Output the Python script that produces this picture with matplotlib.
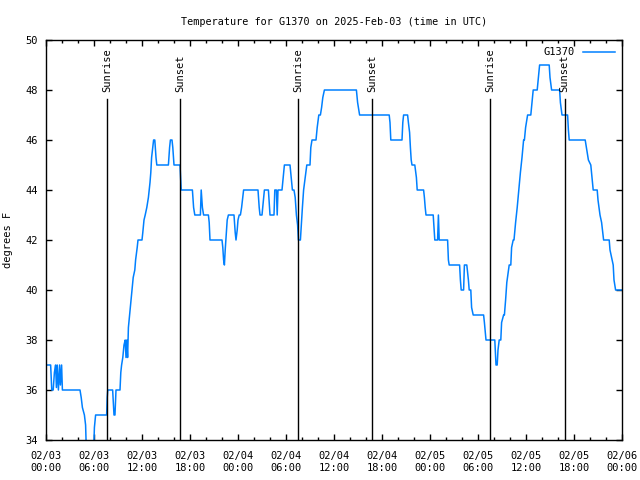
import matplotlib
matplotlib.use("Agg")
import matplotlib.pyplot as plt
from matplotlib.ticker import MultipleLocator

# hours since 2025-02-03 00:00 UTC, temperature in F
hours = [0, 0.58, 0.72, 0.9, 1.05, 1.2, 1.3, 1.4, 1.55, 1.7, 1.8, 1.95, 2.05,
         4.25, 4.4, 4.55, 4.8, 4.95, 5.05, 5.95, 6.05, 6.2, 7.58, 7.65, 7.72,
         8.33, 8.5, 8.62, 8.75, 9.25, 9.35, 9.45, 9.6, 9.75, 9.9, 10.0, 10.1,
         10.2, 10.3, 10.6, 10.9, 11.1, 11.2, 11.4, 11.5, 12.0, 12.1, 12.25,
         12.4, 12.6, 12.8, 13.0, 13.1, 13.2, 13.35, 13.45, 13.6, 13.75, 13.85,
         15.3, 15.45, 15.55, 15.75, 15.85, 16.0, 16.75, 16.9, 18.3, 18.45,
         18.6, 19.3, 19.4, 19.55, 19.7, 20.3, 20.4, 20.5, 22.0, 22.1, 22.2,
         22.3, 22.4, 22.55, 22.65, 22.8, 23.5, 23.65, 23.75, 23.9, 24.0, 24.15,
         24.3, 24.45, 24.7, 26.5, 26.65, 26.75, 27.0, 27.3, 27.8, 28.0, 28.5,
         28.6, 28.8, 28.9, 29.0, 29.5, 29.65, 29.8, 30.5, 30.65, 30.8, 31.0,
         31.15, 31.3, 31.45, 31.55, 31.8, 31.95, 32.05, 32.2, 32.4, 32.6, 33.0,
         33.1, 33.25, 33.75, 33.9, 34.1, 34.3, 34.45, 34.6, 34.8, 38.8, 38.95,
         39.2, 42.9, 43.0, 43.1, 44.5, 44.6, 44.7, 45.2, 45.3, 45.45, 45.55,
         45.65, 45.75, 46.1, 46.3, 46.4, 47.2, 47.3, 47.4, 47.5, 48.4, 48.5,
         48.6, 48.95, 49.05, 49.15, 50.2, 50.3, 50.4, 51.7, 51.8, 51.9, 52.2,
         52.3, 52.6, 52.8, 52.9, 53.1, 53.2, 53.4, 54.7, 54.8, 55.0, 56.1,
         56.25, 56.4, 56.5, 56.65, 56.85, 56.95, 57.2, 57.3, 57.45, 57.6, 57.9,
         58.1, 58.2, 58.4, 58.5, 58.7, 58.9, 59.1, 59.3, 59.5, 59.7, 59.8,
         59.95, 60.2, 60.6, 60.75, 60.9, 61.4, 61.55, 61.7, 62.9, 63.0, 63.2,
         64.2, 64.3, 64.5, 65.2, 65.3, 65.4, 67.4, 67.6, 67.8, 68.1, 68.25,
         68.4, 68.9, 69.0, 69.25, 69.45, 69.7, 70.4, 70.5, 70.7, 70.9, 71.0,
         71.2, 72.0]
temps = [37, 37, 36, 36, 36.7, 37, 36.1, 37, 36, 37, 36.2, 37, 36,
         36, 35.7, 35.3, 35, 34.6, 33.5, 33.5, 34.5, 35, 35, 35.7, 36,
         36, 35, 35, 36, 36, 36.7, 37, 37.3, 37.8, 38, 37.3, 38,
         37.3, 38.5, 39.5, 40.5, 40.8, 41.2, 41.7, 42, 42, 42.3, 42.8,
         43, 43.3, 43.7, 44.3, 44.7, 45.3, 45.7, 46, 46, 45.3, 45,
         45, 45.7, 46, 46, 45.7, 45, 45, 44, 44, 43.3,
         43, 43, 44, 43.3, 43, 43, 42.7, 42, 42, 41.7, 41.2,
         41, 41.6, 42.3, 42.8, 43, 43, 42.3, 42, 42.4, 42.8, 43,
         43, 43.3, 44, 44, 43.3, 43, 43, 44, 44, 43, 43,
         44, 44, 43, 44, 44, 44.5, 45, 45, 44.5, 44, 44,
         43.7, 43, 42.6, 42, 42, 42.8, 43.3, 44, 44.5, 45, 45,
         45.7, 46, 46, 46.5, 47, 47, 47.3, 47.7, 48, 48, 47.5,
         47, 47, 46.7, 46, 46, 46.7, 47, 47, 46.7, 46.3, 45.7,
         45.2, 45, 45, 44.5, 44, 44, 43.7, 43.3, 43, 43, 42.5,
         42, 42, 43, 42, 42, 41.2, 41, 41, 40.4, 40, 40,
         41, 41, 40.4, 40, 40, 39.3, 39, 39, 38.7, 38, 38,
         37, 37, 37.6, 38, 38, 38.7, 39, 39, 39.6, 40.3, 41,
         41, 41.7, 42, 42, 42.7, 43.3, 44, 44.7, 45.3, 46, 46,
         46.5, 47, 47, 47.5, 48, 48, 48.5, 49, 49, 48.5, 48,
         48, 47.5, 47, 47, 46.4, 46, 46, 45.6, 45.2, 45, 44.5,
         44, 44, 43.6, 43, 42.7, 42, 42, 41.6, 41.3, 41, 40.4,
         40, 40]

sun_hours = [7.67, 16.8, 31.54, 40.8, 55.54, 64.83]
sun_labels = ["Sunrise", "Sunset", "Sunrise", "Sunset", "Sunrise", "Sunset"]

tick_hours = list(range(0, 73, 6))
tick_labels = ["02/03\n00:00", "02/03\n06:00", "02/03\n12:00", "02/03\n18:00",
               "02/04\n00:00", "02/04\n06:00", "02/04\n12:00", "02/04\n18:00",
               "02/05\n00:00", "02/05\n06:00", "02/05\n12:00", "02/05\n18:00",
               "02/06\n00:00"]

plt.rcParams['font.family'] = ['DejaVu Sans Mono']
plt.rcParams['font.size'] = 7.5

fig = plt.figure(figsize=(6.4, 4.8), dpi=100)
ax = fig.add_axes([46 / 640, 40 / 480, 576 / 640, 400 / 480])

ax.plot(hours, temps, color='#0080ff', lw=1.1, label='G1370')

for h, lab in zip(sun_hours, sun_labels):
    ax.axvline(h, ymin=0, ymax=0.8525, color='black', lw=1.0)
    ax.text(h, 47.92, lab, rotation=90, ha='center', va='bottom', fontsize=7.5)

ax.set_xlim(0, 72)
ax.set_ylim(34, 50)
ax.set_xticks(tick_hours)
ax.set_xticklabels(tick_labels, linespacing=1.25)
ax.xaxis.set_minor_locator(MultipleLocator(2))
ax.set_yticks(range(34, 51, 2))
ax.tick_params(which='both', direction='in', top=True, right=True, width=1.0)
ax.tick_params(which='major', length=4)
ax.tick_params(axis='x', which='major', pad=8)
ax.tick_params(axis='y', which='major', pad=6)
ax.tick_params(which='minor', length=2)
for s in ax.spines.values():
    s.set_linewidth(1.0)

ax.set_title("Temperature for G1370 on 2025-Feb-03 (time in UTC)", fontsize=7.3, pad=11)
ax.set_ylabel("degrees F", labelpad=9)
ax.legend(loc='upper right', frameon=False, markerfirst=False, handlelength=3.0,
          borderaxespad=0.3, fontsize=7.5)

fig.savefig("out.png", dpi=100)
